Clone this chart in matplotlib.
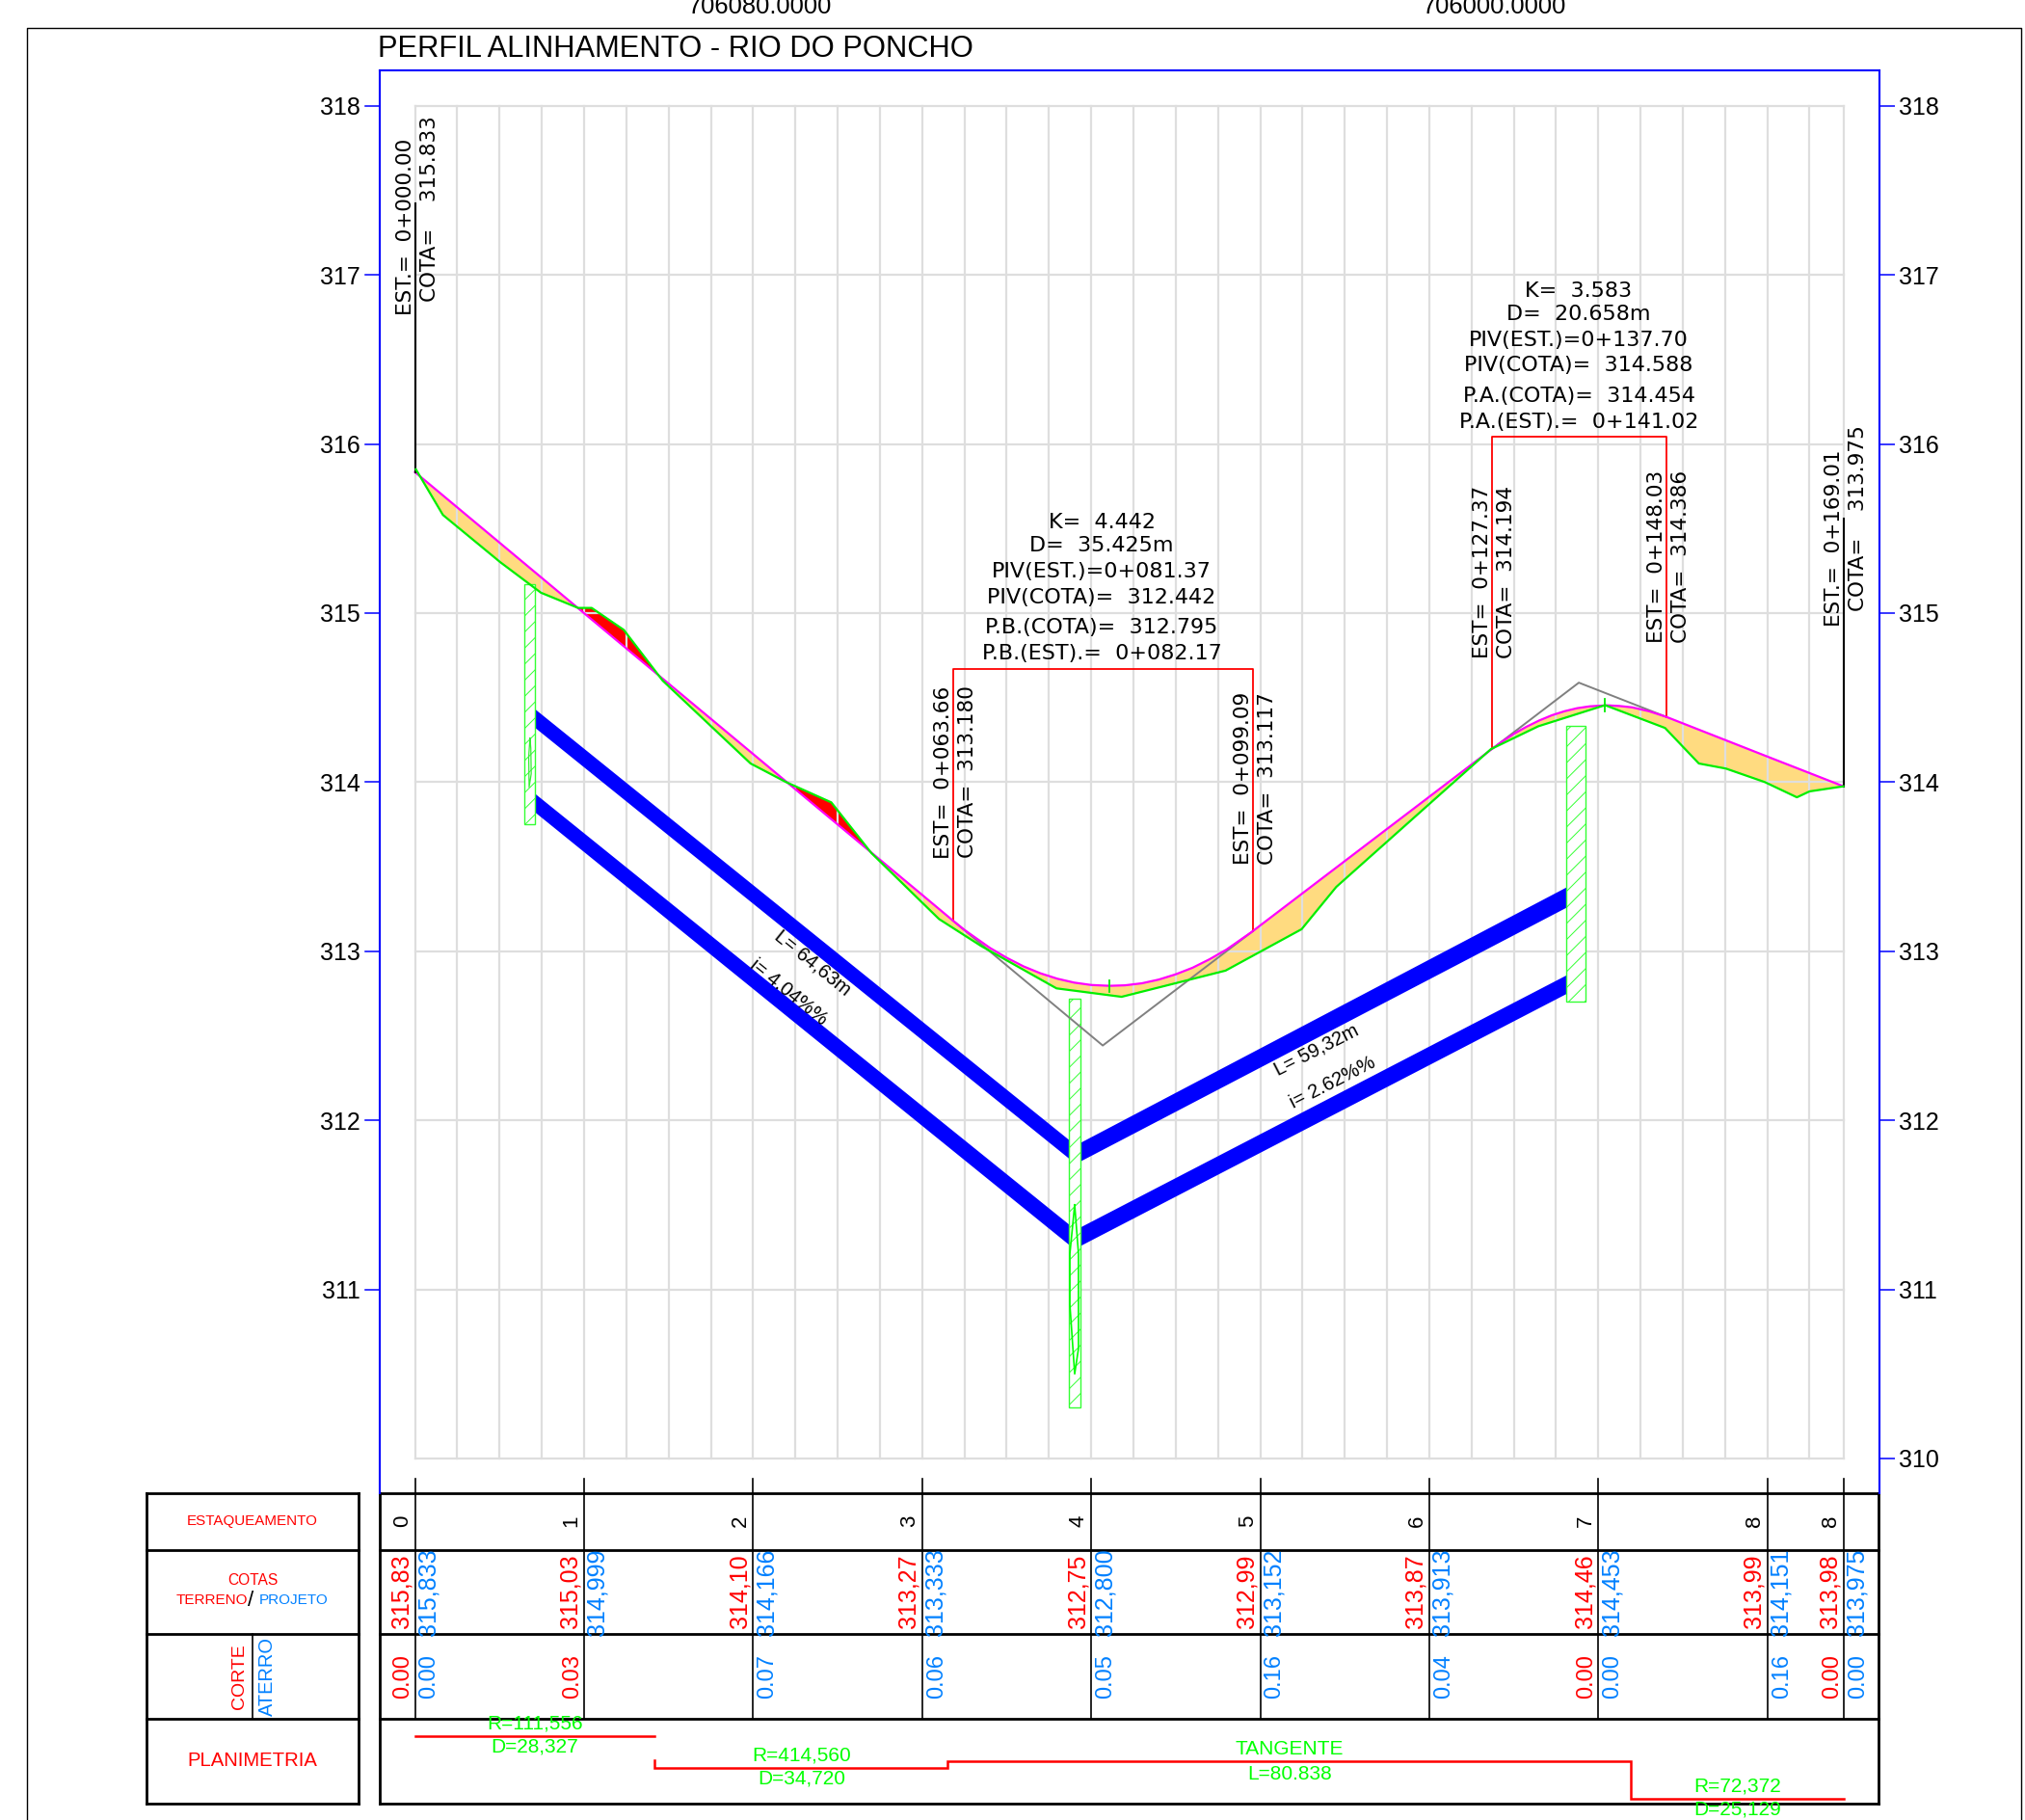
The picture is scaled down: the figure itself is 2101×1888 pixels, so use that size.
import numpy as np
import matplotlib
matplotlib.use("Agg")
import matplotlib.pyplot as plt
from matplotlib.patches import Rectangle
from matplotlib.transforms import blended_transform_factory

plt.rcParams['font.family'] = ['Liberation Sans', 'DejaVu Sans']
plt.rcParams['hatch.linewidth'] = 0.7

# Terreno (verde)
terreno_est = [0.1, 3.3, 10.1, 14.9, 19.3, 20.9, 24.7, 29.3, 39.7, 43.9, 49.25, 54.0, 62.0,
               67.0, 75.9, 83.6, 95.9, 104.9, 109.0, 120.0, 127.3, 132.9, 140.8, 147.9,
               151.9, 155.1, 159.7, 163.5, 165.0, 169.01]
terreno_cota = [315.85, 315.58, 315.30, 315.12, 315.03, 315.03, 314.90, 314.60, 314.11, 314.00,
                313.88, 313.58, 313.19, 313.03, 312.78, 312.73, 312.885, 313.13, 313.38, 313.87,
                314.195, 314.33, 314.455, 314.32, 314.11, 314.08, 314.00, 313.91, 313.945, 313.975]

# Projeto (magenta)
projeto_est = [0, 20, 40, 60, 63.66, 65, 68, 70, 72, 74, 76, 78, 80, 82.17, 84, 86, 88, 90, 92, 94,
               96, 99.09, 100, 120, 127.37, 128.5, 130, 131.5, 133, 134.5, 136, 137.5, 139, 141.02,
               142.5, 144, 146, 148.03, 160, 169.01]
projeto_cota = [315.833, 314.999, 314.166, 313.333, 313.180, 313.126, 313.02, 312.961, 312.91,
                312.869, 312.837, 312.814, 312.800, 312.795, 312.798, 312.81, 312.832, 312.863,
                312.902, 312.952, 313.009, 313.117, 313.152, 313.913, 314.194, 314.235, 314.285,
                314.327, 314.364, 314.395, 314.419, 314.437, 314.448, 314.454, 314.45, 314.442,
                314.419, 314.386, 314.151, 313.975]

# Tangentes verticais (cinza)
piv_sag_est = [63.66, 81.37, 99.09]
piv_sag_cota = [313.180, 312.442, 313.117]
piv_crest_est = [127.37, 137.70, 148.03]
piv_crest_cota = [314.194, 314.588, 314.386]

# Tubos (azul): topo e base em cada ponta
tubo_est = [[14.0, 77.48], [78.54, 136.2]]
tubo1_sup = [[314.44, 311.88], [311.865, 313.38]]
tubo1_inf = [[314.33, 311.77], [311.755, 313.26]]
tubo2_sup = [[313.94, 311.38], [311.365, 312.86]]
tubo2_inf = [[313.83, 311.26], [311.255, 312.75]]

# Pocos de visita (hachurado)
poco_est = [(12.92, 14.15), (77.4, 78.7), (136.2, 138.44)]
poco_cota = [(313.75, 315.17), (310.30, 312.72), (312.70, 314.33)]
lente1_est = [13.6, 13.45, 13.5, 13.75, 13.7, 13.6]
lente1_cota = [314.26, 314.15, 313.97, 314.05, 314.2, 314.26]
lente2_est = [78.05, 77.48, 77.48, 78.05, 78.5, 78.5, 78.05]
lente2_cota = [311.50, 311.21, 310.91, 310.50, 310.65, 311.21, 311.50]

# Tabela
colunas = [0, 20, 40, 60, 80, 100, 120, 140, 160, 169.01]
estacas = ['0', '1', '2', '3', '4', '5', '6', '7', '8', '8']
cotas_terreno = ['315,83', '315,03', '314,10', '313,27', '312,75', '312,99', '313,87', '314,46',
                 '313,99', '313,98']
cotas_projeto = ['315,833', '314,999', '314,166', '313,333', '312,800', '313,152', '313,913',
                 '314,453', '314,151', '313,975']
corte = ['0.00', '0.03', '', '', '', '', '', '0.00', '', '0.00']
aterro = ['0.00', '', '0.07', '0.06', '0.05', '0.16', '0.04', '0.00', '0.16', '0.00']

# Planimetria: trechos acumulados
plani_est = [0, 28.33, 63.05, 143.88, 169.01]

W, H = 2101, 1888
fig = plt.figure(figsize=(W / 100, H / 100), dpi=100, facecolor='white')

# Eixo em pixels para moldura e tabela
fr = fig.add_axes([0, 0, 1, 1])
fr.set_xlim(0, W)
fr.set_ylim(H, 0)
fr.axis('off')

# Eixo do perfil = retangulo azul
L, R, T, B = 394, 1949.5, 73.3, 1548.5
ax = fig.add_axes([L / W, 1 - B / H, (R - L) / W, (B - T) / H])
ax.patch.set_alpha(0)
ax.set_xlim((L - 430.6) / 8.769, (R - 430.6) / 8.769)
ax.set_ylim(318 - (B - 109.7) / 175.4, 318 - (T - 109.7) / 175.4)
for s in ['left', 'right', 'top']:
    ax.spines[s].set_color('#0000ff')
    ax.spines[s].set_linewidth(1.5)
ax.spines['bottom'].set_visible(False)
ax.set_xticks([])
ax.set_yticks(range(310, 319))
ax.tick_params(axis='y', which='both', left=False, right=True, labelleft=False, labelright=True,
               color='#0000ff', length=11.5, width=1.1, labelsize=18, pad=3)
# lado esquerdo nao tem o 310
tr_esq = blended_transform_factory(ax.transAxes, ax.transData)
for v in range(311, 319):
    ax.plot([-0.0098, 0], [v, v], color='#0000ff', lw=1.1, clip_on=False, transform=tr_esq)
    ax.annotate(str(v), xy=(0, v), xycoords=tr_esq, xytext=(-20, 0), textcoords='offset pixels',
                ha='right', va='center_baseline', fontsize=18, annotation_clip=False)

# Preenchimento corte/aterro
xs = np.union1d(terreno_est, projeto_est)
xs = xs[xs >= 0.1]
yt = np.interp(xs, terreno_est, terreno_cota)
yp = np.interp(xs, projeto_est, projeto_cota)
ax.fill_between(xs, yt, yp, where=yt <= yp, interpolate=True, color='#ffdb80', lw=0, zorder=1)
ax.fill_between(xs, yt, yp, where=yt >= yp, interpolate=True, color='#ff0000', lw=0, zorder=1)

# Malha
grade = '#dedede'
for x in np.arange(0, 170, 5):
    ax.plot([x, x], [310, 318], color=grade, lw=1.6, zorder=2)
ax.plot([169.01, 169.01], [310, 318], color=grade, lw=1.6, zorder=2)
for v in range(310, 319):
    ax.plot([0, 169.01], [v, v], color=grade, lw=1.6, zorder=2)

# Tubos
for tub_sup, tub_inf in [(tubo1_sup, tubo1_inf), (tubo2_sup, tubo2_inf)]:
    for est, sup, inf in zip(tubo_est, tub_sup, tub_inf):
        ax.fill_between(est, inf, sup, color='#0000ff', lw=0, zorder=3)

# Pocos
for est, cota in zip(poco_est, poco_cota):
    ax.add_patch(Rectangle((est[0], cota[0]), est[1] - est[0], cota[1] - cota[0], fc='white',
                           ec='#33ff33', hatch='//', lw=1.0, zorder=4))
ax.plot(lente1_est, lente1_cota, color='#33ee33', lw=0.9, zorder=4)
ax.plot(lente2_est, lente2_cota, color='#00ff00', lw=1.2, zorder=4)

# Tangentes, perfil e terreno
ax.plot(piv_sag_est, piv_sag_cota, color='#808080', lw=1.4, zorder=5)
ax.plot(piv_crest_est, piv_crest_cota, color='#808080', lw=1.4, zorder=5)
ax.plot(projeto_est, projeto_cota, color='#ff00ff', lw=1.6, zorder=6)
ax.plot(terreno_est, terreno_cota, color='#00ee00', lw=1.6, zorder=7)
ax.plot([82.17, 82.17], [312.76, 312.83], color='#00ee00', lw=1.3, zorder=7)
ax.plot([140.8, 140.8], [314.42, 314.49], color='#00ee00', lw=1.3, zorder=7)

# Linhas de chamada
ax.plot([0, 0], [315.833, 317.42], color='black', lw=1.5, zorder=6)
ax.plot([169.01, 169.01], [313.975, 315.56], color='black', lw=1.5, zorder=6)
ax.plot([63.66, 63.66, 99.09, 99.09], [313.18, 314.67, 314.67, 313.117], color='#ff0000', lw=1.3, zorder=5)
ax.plot([127.37, 127.37, 148.03, 148.03], [314.194, 316.04, 316.04, 314.386], color='#ff0000', lw=1.3, zorder=5)

# Textos verticais: est, cota, base do EST, base da COTA (px)
chamadas = [(0, 'EST.=  0+000.00', 'COTA=    315.833', 327, 313),
            (63.66, 'EST=  0+063.66', 'COTA=  313.180', 891, 890),
            (99.09, 'EST=  0+099.09', 'COTA=  313.117', 897, 897),
            (127.37, 'EST=  0+127.37', 'COTA=  314.194', 683, 683),
            (148.03, 'EST=  0+148.03', 'COTA=  314.386', 667, 667),
            (169.01, 'EST.=  0+169.01', 'COTA=    313.975', 650, 634)]
tr_est = blended_transform_factory(ax.transData, fr.transData)
for est, t1, t2, y1, y2 in chamadas:
    ax.annotate(t1, xy=(est, y1), xycoords=tr_est, xytext=(-10, 0), textcoords='offset pixels',
                rotation=90, ha='center', va='bottom', family='DejaVu Sans', fontsize=15.5, zorder=8)
    ax.annotate(t2, xy=(est, y2), xycoords=tr_est, xytext=(15, 0), textcoords='offset pixels',
                rotation=90, ha='center', va='bottom', family='DejaVu Sans', fontsize=15.5, zorder=8)

# Blocos das curvas
bloco1 = ['K=  4.442', 'D=  35.425m', 'PIV(EST.)=0+081.37', 'PIV(COTA)=  312.442',
          'P.B.(COTA)=  312.795', 'P.B.(EST).=  0+082.17']
bloco2 = ['K=  3.583', 'D=  20.658m', 'PIV(EST.)=0+137.70', 'PIV(COTA)=  314.588',
          'P.A.(COTA)=  314.454', 'P.A.(EST).=  0+141.02']
ys1 = [540.6, 565.5, 591.5, 618.8, 649.7, 677]
ys2 = [300.6, 325.5, 351.5, 378, 409.7, 437]
for t, y in zip(bloco1, ys1):
    ax.text(1143, y + 1, t, transform=fr.transData, ha='center', va='center', family='DejaVu Sans',
            fontsize=16, zorder=9, clip_on=False)
for t, y in zip(bloco2, ys2):
    ax.text(1638, y + 1, t, transform=fr.transData, ha='center', va='center', family='DejaVu Sans',
            fontsize=16, zorder=9, clip_on=False)

# Textos dos tubos
tubo_txt = [(843, 999, 'L= 64,63m', -39), (818, 1029, 'i= 4.04%%', -39),
            (1366, 1089, 'L= 59,32m', 27), (1383, 1123, 'i= 2.62%%', 27)]
for x, y, s, rot in tubo_txt:
    ax.text(x, y, s, transform=fr.transData, rotation=rot, ha='center', va='center', fontsize=14.5,
            rotation_mode='anchor', zorder=9)

# Titulo e moldura
fr.text(392, 51, 'PERFIL ALINHAMENTO - RIO DO PONCHO', ha='left', va='center', fontsize=22.2)
fr.text(788, 14, '706080.0000', ha='center', va='baseline', fontsize=18.4)
fr.text(1550, 14, '706000.0000', ha='center', va='baseline', fontsize=18.4)
fr.plot([27.5, 27.5, 2097, 2097], [H, 29, 29, H], color='black', lw=1)

# Tabela
ylin = [1548.5, 1608, 1695, 1783, 1871]
for y in ylin:
    fr.plot([152, 372], [y, y], color='black', lw=2, solid_capstyle='projecting')
    fr.plot([394, 1949], [y, y], color='black', lw=2, solid_capstyle='projecting')
for x in [152, 372, 394, 1949]:
    fr.plot([x, x], [ylin[0], ylin[-1]], color='black', lw=2)
fr.plot([262, 262], [ylin[2], ylin[3]], color='black', lw=1.2)

tr_tab = blended_transform_factory(ax.transData, fr.transData)
def txt(est, dx, y, s, cor='black', size=18):
    ax.annotate(s, xy=(est, y), xycoords=tr_tab, xytext=(dx, 0), textcoords='offset pixels',
                rotation=90, ha='center', va='center', color=cor, fontsize=size, annotation_clip=False)

azul = '#0080ff'
for i, x in enumerate(colunas):
    ax.plot([x, x], [1534, ylin[3]], transform=tr_tab, color='black', lw=1.2, clip_on=False)
    txt(x, -13, 1578, estacas[i], size=16)
    txt(x, -14, 1651, cotas_terreno[i], '#ff0000')
    txt(x, 14, 1651.5, cotas_projeto[i], azul)
    if corte[i]:
        txt(x, -12, 1739.5, corte[i], '#ff0000', 17)
    if aterro[i]:
        txt(x, 15, 1739.5, aterro[i], azul, 17)

fr.text(262, 1578, 'ESTAQUEAMENTO', ha='center', va='center', color='#ff0000', fontsize=10.9)
fr.text(262, 1640, 'COTAS', ha='center', va='center', color='#ff0000', fontsize=11.2)
fr.text(257.5, 1660, 'TERRENO', ha='right', va='center', color='#ff0000', fontsize=11)
fr.text(260, 1660, '/', ha='center', va='center', color='black', fontsize=16)
fr.text(269, 1660, 'PROJETO', ha='left', va='center', color=azul, fontsize=11)
fr.text(248, 1739, 'CORTE', rotation=90, ha='center', va='center', color='#ff0000', fontsize=14)
fr.text(277, 1739, 'ATERRO', rotation=90, ha='center', va='center', color=azul, fontsize=14.4)
fr.text(262, 1827, 'PLANIMETRIA', ha='center', va='center', color='#ff0000', fontsize=14.6)

# Planimetria
vermelho = dict(color='#ff0000', lw=1.8, transform=tr_tab, clip_on=False, solid_joinstyle='miter')
ax.plot([plani_est[0], plani_est[1]], [1801.3, 1801.3], **vermelho)
ax.plot([plani_est[1], plani_est[1], plani_est[2], plani_est[2], plani_est[3], plani_est[3], plani_est[4]],
        [1826, 1833.7, 1833.7, 1826.7, 1826.7, 1866, 1866], **vermelho)
verde = '#00ff00'
plani_txt = [(14.16, 1788, 'R=111,556'), (14.16, 1812, 'D=28,327'),
             (45.69, 1821, 'R=414,560'), (45.69, 1845, 'D=34,720'),
             (103.46, 1815, 'TANGENTE'), (103.46, 1840, 'L=80.838'),
             (156.44, 1852.7, 'R=72,372'), (156.44, 1877, 'D=25,129')]
for est, y, s in plani_txt:
    ax.annotate(s, xy=(est, y), xycoords=tr_tab, ha='center', va='center', color=verde, fontsize=15,
                annotation_clip=False)

fig.savefig('out.png', dpi=100)
